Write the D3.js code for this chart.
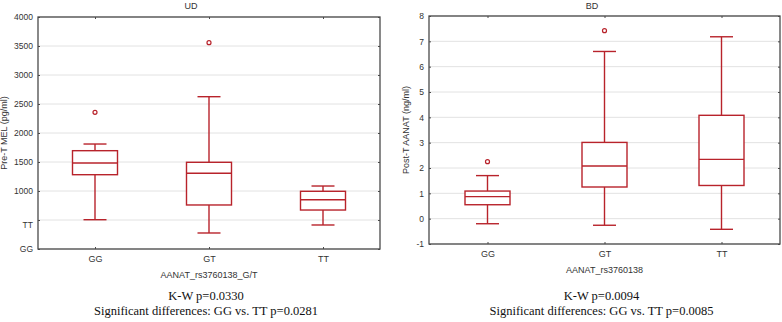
<!DOCTYPE html>
<html>
<head>
<meta charset="utf-8">
<script src="https://cdn.jsdelivr.net/npm/d3@7"></script>
<style>
  body { margin: 0; background: #fff; }
  svg { display: block; }
</style>
</head>
<body>
<svg id="chart" width="782" height="322"></svg>
<script>
// genotype groups
const genotypes = ["GG", "GT", "TT"];

// UD panel: Pre-T MEL (pg/ml)
const udStats = [
    { low: 505, q1: 1281, median: 1483, q3: 1695, high: 1810 },
    { low: 276, q1: 759, median: 1305, q3: 1495, high: 2626 },
    { low: 414, q1: 672, median: 850, q3: 995, high: 1086 }
];
const udOutliers = [[2357], [3557], []];
const udTicks = [0, 500, 1000, 1500, 2000, 2500, 3000, 3500, 4000];
const udTickLabels = ["GG", "TT", "1000", "1500", "2000", "2500", "3000", "3500", "4000"];

// BD panel: Post-T AANAT (ng/ml)
const bdStats = [
    { low: -0.20, q1: 0.55, median: 0.87, q3: 1.09, high: 1.70 },
    { low: -0.26, q1: 1.25, median: 2.08, q3: 3.01, high: 6.60 },
    { low: -0.42, q1: 1.31, median: 2.34, q3: 4.08, high: 7.18 }
];
const bdOutliers = [[2.25], [7.42], []];
const bdTicks = [-1, 0, 1, 2, 3, 4, 5, 6, 7, 8];
const bdTickLabels = ["-1", "0", "1", "2", "3", "4", "5", "6", "7", "8"];

const boxColor = "#b8232b";
const frameColor = "#4a4a4a";

const svg = d3.select("#chart");

function drawPanel(p) {
    const x = d3.scalePoint()
        .domain(genotypes)
        .range([p.left, p.right])
        .padding(0.5);

    const y = d3.scaleLinear()
        .domain(p.domain)
        .range([p.bottom, p.top]);

    const g = svg.append("g");

    // gridlines
    g.append("g")
        .selectAll("line")
        .data(p.ticks)
        .join("line")
        .attr("x1", p.left)
        .attr("x2", p.right)
        .attr("y1", d => y(d))
        .attr("y2", d => y(d))
        .attr("stroke", "#e2e2e2")
        .attr("stroke-width", 1);

    // left axis (ticks point inward)
    const yAxis = g.append("g")
        .attr("transform", `translate(${p.left},0)`)
        .call(d3.axisLeft(y)
            .tickValues(p.ticks)
            .tickSize(-2)
            .tickPadding(5)
            .tickFormat((d, i) => p.tickLabels[i]));
    yAxis.select(".domain").remove();
    yAxis.selectAll("line").attr("stroke", frameColor);
    yAxis.selectAll("text")
        .attr("fill", "#333")
        .style("font-family", "Arial, 'Liberation Sans', sans-serif")
        .style("font-size", "8.5px")
        .attr("dy", (d, i) => (p.labelShift && p.labelShift[i]) ? p.labelShift[i] : "0.32em");

    // right axis ticks
    const yRight = g.append("g")
        .attr("transform", `translate(${p.right},0)`)
        .call(d3.axisRight(y).tickValues(p.ticks).tickSize(-2).tickFormat(""));
    yRight.select(".domain").remove();
    yRight.selectAll("line").attr("stroke", frameColor);

    // bottom axis
    const xAxis = g.append("g")
        .attr("transform", `translate(0,${p.bottom})`)
        .call(d3.axisBottom(x).tickSize(-2).tickPadding(7));
    xAxis.select(".domain").remove();
    xAxis.selectAll("line").attr("stroke", frameColor);
    xAxis.selectAll("text")
        .attr("fill", "#333")
        .style("font-family", "Arial, 'Liberation Sans', sans-serif")
        .style("font-size", "9px");

    // top axis ticks
    const xTop = g.append("g")
        .attr("transform", `translate(0,${p.top})`)
        .call(d3.axisTop(x).tickSize(-2).tickFormat(""));
    xTop.select(".domain").remove();
    xTop.selectAll("line").attr("stroke", frameColor);

    // frame
    g.append("rect")
        .attr("x", p.left)
        .attr("y", p.top)
        .attr("width", p.right - p.left)
        .attr("height", p.bottom - p.top)
        .attr("fill", "none")
        .attr("stroke", frameColor)
        .attr("stroke-width", 1.3);

    // boxes
    const boxW = 45;
    const capW = 23;
    const boxes = g.append("g")
        .selectAll("g")
        .data(p.stats)
        .join("g")
        .attr("stroke", boxColor)
        .attr("stroke-width", 1.4)
        .attr("fill", "none");

    boxes.append("line")
        .attr("x1", (d, i) => x(genotypes[i]))
        .attr("x2", (d, i) => x(genotypes[i]))
        .attr("y1", d => y(d.high))
        .attr("y2", d => y(d.q3));
    boxes.append("line")
        .attr("x1", (d, i) => x(genotypes[i]))
        .attr("x2", (d, i) => x(genotypes[i]))
        .attr("y1", d => y(d.q1))
        .attr("y2", d => y(d.low));
    boxes.append("line")
        .attr("x1", (d, i) => x(genotypes[i]) - capW / 2)
        .attr("x2", (d, i) => x(genotypes[i]) + capW / 2)
        .attr("y1", d => y(d.high))
        .attr("y2", d => y(d.high));
    boxes.append("line")
        .attr("x1", (d, i) => x(genotypes[i]) - capW / 2)
        .attr("x2", (d, i) => x(genotypes[i]) + capW / 2)
        .attr("y1", d => y(d.low))
        .attr("y2", d => y(d.low));
    boxes.append("rect")
        .attr("x", (d, i) => x(genotypes[i]) - boxW / 2)
        .attr("y", d => y(d.q3))
        .attr("width", boxW)
        .attr("height", d => y(d.q1) - y(d.q3))
        .attr("fill", "#fff");
    boxes.append("line")
        .attr("x1", (d, i) => x(genotypes[i]) - boxW / 2)
        .attr("x2", (d, i) => x(genotypes[i]) + boxW / 2)
        .attr("y1", d => y(d.median))
        .attr("y2", d => y(d.median));

    // outliers
    const outPts = [];
    p.outliers.forEach((vals, i) => vals.forEach(v => outPts.push({ g: genotypes[i], v })));
    g.append("g")
        .selectAll("circle")
        .data(outPts)
        .join("circle")
        .attr("cx", d => x(d.g))
        .attr("cy", d => y(d.v))
        .attr("r", 2)
        .attr("fill", "#fff")
        .attr("stroke", boxColor)
        .attr("stroke-width", 1.2);

    // panel title
    g.append("text")
        .attr("x", p.titleX)
        .attr("y", 9)
        .attr("text-anchor", "middle")
        .style("font-family", "Arial, 'Liberation Sans', sans-serif")
        .style("font-size", "9px")
        .attr("fill", "#333")
        .text(p.title);

    // x axis title
    g.append("text")
        .attr("x", (p.left + p.right) / 2)
        .attr("y", p.bottom + 29)
        .attr("text-anchor", "middle")
        .style("font-family", "Arial, 'Liberation Sans', sans-serif")
        .style("font-size", "9px")
        .attr("fill", "#333")
        .text(p.xTitle);

    // y axis title
    g.append("text")
        .attr("transform", `translate(${p.yTitleX},${(p.top + p.bottom) / 2}) rotate(-90)`)
        .attr("text-anchor", "middle")
        .style("font-family", "Arial, 'Liberation Sans', sans-serif")
        .style("font-size", "9px")
        .attr("fill", "#333")
        .text(p.yTitle);

    // statistics notes
    const cx = (p.left + p.right) / 2 - 3;
    p.notes.forEach((t, i) => {
        g.append("text")
            .attr("x", cx)
            .attr("y", 300 + i * 15)
            .attr("text-anchor", "middle")
            .style("font-family", "'Liberation Serif', 'Times New Roman', serif")
            .style("font-size", "12.5px")
            .attr("fill", "#111")
            .text(t);
    });
}

drawPanel({
    left: 38, right: 380, top: 17, bottom: 249,
    domain: [0, 4000],
    ticks: udTicks, tickLabels: udTickLabels,
    labelShift: ["0.32em", "0.9em"],
    stats: udStats, outliers: udOutliers,
    title: "UD", titleX: 191,
    xTitle: "AANAT_rs3760138_G/T",
    yTitle: "Pre-T MEL (pg/ml)", yTitleX: 7,
    notes: ["K-W p=0.0330", "Significant differences: GG vs. TT p=0.0281"]
});

drawPanel({
    left: 429, right: 780, top: 16, bottom: 244,
    domain: [-1, 8],
    ticks: bdTicks, tickLabels: bdTickLabels,
    stats: bdStats, outliers: bdOutliers,
    title: "BD", titleX: 592,
    xTitle: "AANAT_rs3760138",
    yTitle: "Post-T AANAT (ng/ml)", yTitleX: 409,
    notes: ["K-W p=0.0094", "Significant differences: GG vs. TT p=0.0085"]
});
</script>
</body>
</html>
